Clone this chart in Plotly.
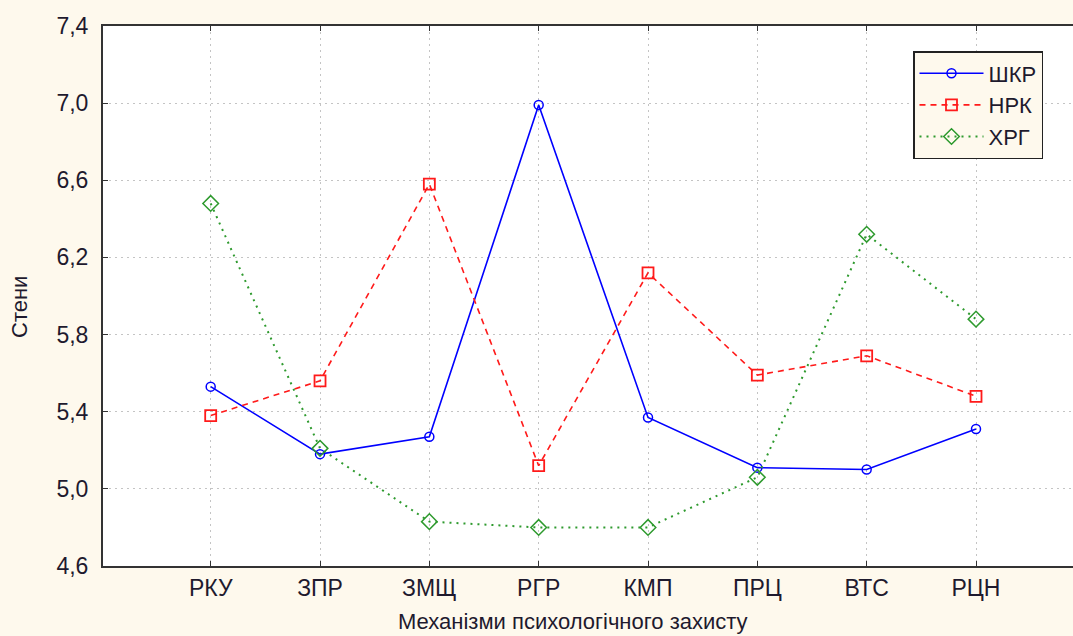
import plotly.graph_objects as go

categories = ["РКУ", "ЗПР", "ЗМЩ", "РГР", "КМП", "ПРЦ", "ВТС", "РЦН"]
shkr = [5.53, 5.18, 5.27, 6.99, 5.37, 5.11, 5.10, 5.31]
nrk = [5.38, 5.56, 6.58, 5.12, 6.12, 5.59, 5.69, 5.48]
hrg = [6.48, 5.21, 4.83, 4.80, 4.80, 5.06, 6.32, 5.88]
y_ticks = [4.6, 5.0, 5.4, 5.8, 6.2, 6.6, 7.0, 7.4]
y_tick_labels = ["4,6", "5,0", "5,4", "5,8", "6,2", "6,6", "7,0", "7,4"]

FONT = "Liberation Sans, Arial, sans-serif"
TXT = "#1e1a2e"
BG = "#fef9ed"
FS = 23

W, H = 1090, 636
L, T, B = 103, 26, 70
PW = W - L
PH = H - T - B

xs = list(range(len(categories)))

fig = go.Figure()
fig.add_trace(go.Scatter(
    x=xs, y=shkr, name="ШКР", mode="lines+markers",
    line=dict(color="#0000ff", width=1.6, dash="solid"),
    marker=dict(symbol="circle-open", size=9, color="#0000ff", line=dict(width=1.5)),
))
fig.add_trace(go.Scatter(
    x=xs, y=nrk, name="НРК", mode="lines+markers",
    line=dict(color="#ff1a1a", width=1.6, dash="6px,5px"),
    marker=dict(symbol="square-open", size=11, color="#ff1a1a", line=dict(width=1.8)),
))
fig.add_trace(go.Scatter(
    x=xs, y=hrg, name="ХРГ", mode="lines+markers",
    line=dict(color="#2e9a2e", width=2, dash="2px,5px"),
    marker=dict(symbol="diamond-open", size=12, color="#2e9a2e", line=dict(width=1.5)),
))

fig.update_layout(
    width=W, height=H,
    margin=dict(l=L, r=0, t=T, b=B),
    paper_bgcolor=BG, plot_bgcolor="white",
    font=dict(family=FONT, size=FS, color=TXT),
    showlegend=True,
    legend=dict(
        x=(913 - L) / PW, y=(H - B - 51) / PH, xanchor="left", yanchor="top",
        bgcolor=BG, bordercolor="#222222", borderwidth=1.5,
        font=dict(family=FONT, size=22, color=TXT),
        itemwidth=64,
    ),
    xaxis=dict(
        range=[-0.985, -0.985 + PW / 109.33],
        tickmode="array", tickvals=xs, ticktext=categories,
        showgrid=True, gridcolor="#c4c4c4", griddash="2px,4px", gridwidth=1.2,
        showline=True, linecolor="#333333", linewidth=2, mirror="ticks",
        ticks="inside", ticklen=5, tickcolor="#333333",
        tickfont=dict(family=FONT, size=FS, color=TXT),
        zeroline=False,
    ),
    yaxis=dict(
        range=[4.6, 7.4],
        tickmode="array", tickvals=y_ticks, ticktext=y_tick_labels,
        showgrid=True, gridcolor="#c4c4c4", griddash="2px,4px", gridwidth=1.2,
        showline=True, linecolor="#333333", linewidth=2,
        ticks="inside", ticklen=5, tickcolor="#333333",
        tickfont=dict(family=FONT, size=FS, color=TXT),
        ticklabelstandoff=8,
        zeroline=False,
    ),
    annotations=[
        dict(text="Механізми психологічного захисту", xref="paper", yref="paper",
             x=(573 - L) / PW, y=-(621 - (H - B)) / PH, xanchor="center", yanchor="middle",
             showarrow=False, font=dict(family=FONT, size=22, color=TXT)),
        dict(text="Стени", xref="paper", yref="paper",
             x=-(L - 19) / PW, y=((H - B) - 307) / PH, xanchor="center", yanchor="middle",
             textangle=-90, showarrow=False, font=dict(family=FONT, size=FS - 1, color=TXT)),
    ],
)

post = ("document.documentElement.style.overflow='hidden';"
        "document.body.style.margin='0';document.body.style.padding='0';"
        "document.body.style.overflow='hidden';document.body.style.background='%s';"
        "document.documentElement.style.background='%s';" % (BG, BG))
fig.write_html("out.html", post_script=post, config={"displayModeBar": False})
